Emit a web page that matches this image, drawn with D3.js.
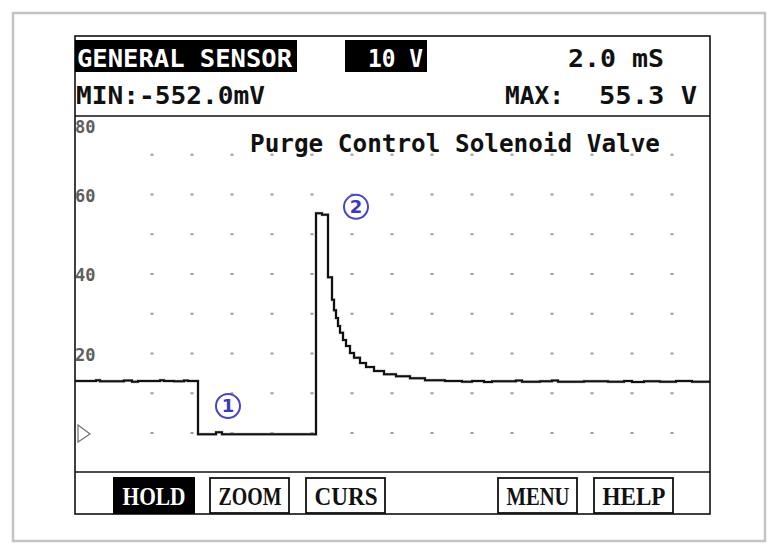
<!DOCTYPE html>
<html>
<head>
<meta charset="utf-8">
<script src="https://cdn.jsdelivr.net/npm/d3@7"></script>
<style>
  body { margin: 0; background: #fff; }
  svg { display: block; }
</style>
</head>
<body>
<svg width="776" height="552"></svg>
<script>
// scope trace: time in ms, level in volts (step-after samples)
const timeMs = [0, 1.2, 1.4, 2.6, 3.0, 3.3, 4.4, 4.6, 5.1, 5.6, 5.8,
  6.3, 7.2, 7.5,
  12.2, 12.5, 12.8, 13.0, 13.1, 13.2, 13.3, 13.4, 13.55, 13.7, 13.9, 14.1, 14.4, 14.7, 15.1, 15.6, 16.2, 16.9, 17.65,
  18.65, 19.5, 20.0, 20.6, 21.0, 22.2, 22.5, 23.4, 24.0, 24.3, 25.6, 26.8, 27.6, 28.0, 28.6, 29.4, 30.2, 31.0, 32];
const volts = [13.1, 13.3, 13.0, 13.2, 12.9, 13.1, 13.3, 13.1, 13.0, 13.2, 13.1,
  -0.3, 0.2, -0.3,
  55.3, 54.9, 39.2, 33.5, 30.9, 28.9, 26.9, 25.2, 23.4, 21.9, 20.1, 18.9, 17.6, 16.6, 15.6, 14.8, 14.3, 13.8, 13.3,
  13.1, 12.9, 13.1, 12.8, 13.0, 13.2, 12.9, 13.0, 13.2, 12.9, 13.0, 12.9, 13.1, 12.8, 13.0, 12.9, 13.1, 12.9, 12.9];

const yTicks = [20, 40, 60, 80];
const gridTimes = [4, 6, 8, 10, 12, 14, 16, 18, 20, 22, 24, 26, 28, 30];
const gridVolts = [0, 10, 20, 30, 40, 50, 60, 70];

const markerLabels = ["1", "2"];
const markerTimes = [7.8, 14.2];
const markerVolts = [6.8, 56.9];

const title = "Purge Control Solenoid Valve";
const channelName = "GENERAL SENSOR";
const voltsPerDiv = "10 V";
const timePerDiv = "2.0 mS";
const minText = "MIN:-552.0mV";
const maxLabel = "MAX:";
const maxValue = "55.3 V";
const buttons = ["HOLD", "ZOOM", "CURS", "", "MENU", "HELP"];

const svg = d3.select("svg");
const screen = { left: 75, right: 710, top: 36, bottom: 514 };
const plotTop = 116, plotBottom = 472;

const mono = "'DejaVu Sans Mono', monospace";
const serif = "'Liberation Serif', 'DejaVu Serif', serif";

// outer grey frame
svg.append("rect")
    .attr("x", 13).attr("y", 13).attr("width", 752).attr("height", 528)
    .attr("fill", "none").attr("stroke", "#c4c4c4").attr("stroke-width", 2.5);

const x = d3.scaleLinear().domain([0, 32]).range([72, 712]);
const y = d3.scaleLinear().domain([0, 80]).range([433, 115]);

svg.append("clipPath").attr("id", "plotClip")
    .append("rect")
    .attr("x", screen.left).attr("y", plotTop)
    .attr("width", screen.right - screen.left).attr("height", plotBottom - plotTop);

const plot = svg.append("g").attr("clip-path", "url(#plotClip)");

// dotted grid
const gridPts = [];
gridVolts.forEach(v => gridTimes.forEach(t => gridPts.push([t, v])));
plot.selectAll(".dot")
    .data(gridPts)
    .enter().append("rect")
    .attr("class", "dot")
    .attr("x", d => x(d[0]) - 1.5)
    .attr("y", d => y(d[1]) - 1)
    .attr("width", 3).attr("height", 2)
    .attr("fill", "#9a9a9a");

// y labels
plot.selectAll(".ylab")
    .data(yTicks)
    .enter().append("text")
    .attr("class", "ylab")
    .attr("x", 75)
    .attr("y", d => Math.max(y(d) + 7, plotTop + 17))
    .attr("font-family", mono)
    .attr("font-weight", "bold")
    .attr("font-size", 17)
    .attr("fill", "#5e5e5e")
    .text(d => d);

// ground marker
plot.append("path")
    .attr("d", `M78,${y(0) - 8} L90,${y(0) + 1} L78,${y(0) + 9} Z`)
    .attr("fill", "none").attr("stroke", "#777").attr("stroke-width", 1.3);

// title
plot.append("text")
    .attr("x", 250).attr("y", 152)
    .attr("font-family", mono).attr("font-weight", "bold").attr("font-size", 25)
    .attr("textLength", 410).attr("lengthAdjust", "spacingAndGlyphs")
    .attr("fill", "#111")
    .text(title);

// trace
const trace = timeMs.map((t, i) => ({ t: t, v: volts[i] }));
const line = d3.line()
    .x(d => x(d.t))
    .y(d => y(d.v))
    .curve(d3.curveStepAfter);

plot.append("path")
    .datum(trace)
    .attr("fill", "none")
    .attr("stroke", "#b8b8b8")
    .attr("stroke-width", 3)
    .attr("d", line);
plot.append("path")
    .datum(trace)
    .attr("fill", "none")
    .attr("stroke", "#111")
    .attr("stroke-width", 2)
    .attr("d", line);

// circled markers
const marks = plot.selectAll(".mark")
    .data(markerLabels)
    .enter().append("g")
    .attr("class", "mark")
    .attr("transform", (d, i) => `translate(${x(markerTimes[i])},${y(markerVolts[i])})`);
marks.append("circle")
    .attr("r", 12)
    .attr("fill", "none").attr("stroke", "#4646c2").attr("stroke-width", 2);
marks.append("text")
    .attr("text-anchor", "middle").attr("dy", 6.5)
    .attr("font-family", "'DejaVu Sans', sans-serif").attr("font-size", 18).attr("font-weight", "bold")
    .attr("fill", "#3a3ab8")
    .text(d => d);

// screen border and separators
svg.append("rect")
    .attr("x", screen.left).attr("y", screen.top)
    .attr("width", screen.right - screen.left).attr("height", screen.bottom - screen.top)
    .attr("fill", "none").attr("stroke", "#111").attr("stroke-width", 1.6);
[plotTop, plotBottom].forEach(yy => {
    svg.append("line")
        .attr("x1", screen.left).attr("x2", screen.right)
        .attr("y1", yy).attr("y2", yy)
        .attr("stroke", "#111").attr("stroke-width", 1.6);
});

// header
svg.append("rect").attr("x", 75).attr("y", 40).attr("width", 222).attr("height", 32).attr("fill", "#000");
svg.append("rect").attr("x", 345).attr("y", 40).attr("width", 82).attr("height", 32).attr("fill", "#000");

function headText(str, xx, yy, len, fill, anchor) {
    svg.append("text")
        .attr("x", xx).attr("y", yy)
        .attr("text-anchor", anchor || "start")
        .attr("font-family", mono).attr("font-weight", "bold").attr("font-size", 25)
        .attr("textLength", len).attr("lengthAdjust", "spacingAndGlyphs")
        .attr("fill", fill)
        .text(str);
}
headText(channelName, 77, 67, 215, "#fff");
headText(voltsPerDiv, 368, 67, 55, "#fff");
headText(timePerDiv, 568, 67, 96, "#111");
headText(minText, 76, 104, 189, "#111");
headText(maxLabel, 505, 104, 59, "#111");
headText(maxValue, 599, 104, 98, "#111");

// soft keys
const slot = d3.scaleLinear().domain([0, 1]).range([113, 209]);
const keys = svg.selectAll(".key")
    .data(buttons.map((b, i) => ({ label: b, i: i })).filter(d => d.label))
    .enter().append("g")
    .attr("class", "key")
    .attr("transform", d => `translate(${slot(d.i)},0)`);
keys.append("rect")
    .attr("x", d => d.i === 0 ? 0 : 1)
    .attr("y", d => d.i === 0 ? 477 : 478)
    .attr("width", d => d.i === 0 ? 82 : 79)
    .attr("height", d => d.i === 0 ? 37 : 35)
    .attr("fill", d => d.i === 0 ? "#000" : "#fff")
    .attr("stroke", "#111")
    .attr("stroke-width", d => d.i === 0 ? 0 : 1.8);
keys.append("text")
    .attr("x", 41).attr("y", 505)
    .attr("text-anchor", "middle")
    .attr("font-family", serif).attr("font-weight", "bold").attr("font-size", 26)
    .attr("textLength", 63).attr("lengthAdjust", "spacingAndGlyphs")
    .attr("fill", d => d.i === 0 ? "#fff" : "#111")
    .text(d => d.label);
</script>
</body>
</html>
